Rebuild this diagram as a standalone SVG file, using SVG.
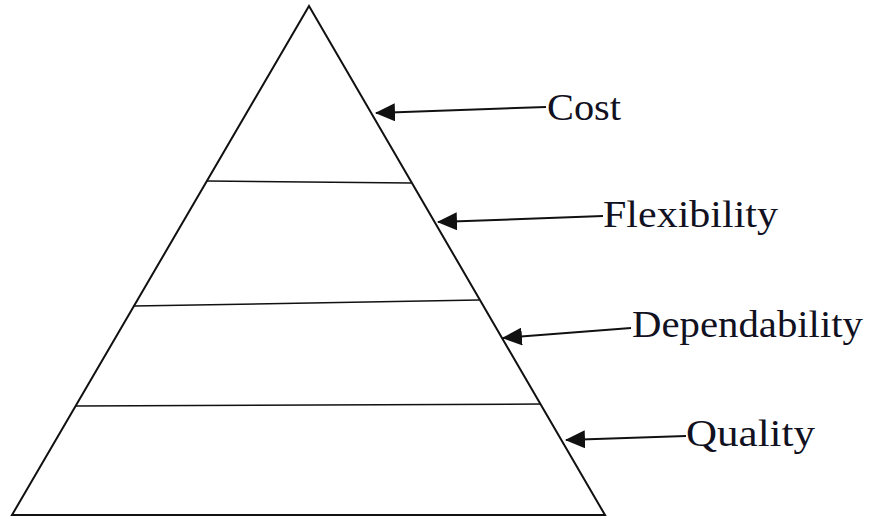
<svg xmlns="http://www.w3.org/2000/svg" width="878" height="519" viewBox="0 0 878 519">
  <style>
    .edge { fill: none; stroke: #111; stroke-width: 2; stroke-linejoin: miter; }
    .tier { fill: none; stroke: #111; stroke-width: 1.5; }
    .arrow { fill: none; stroke: #111; stroke-width: 2; marker-end: url(#head); }
    .label { font-family: "Liberation Serif", "Times New Roman", Times, serif; font-size: 37px; fill: #111122; }
  </style>
  <defs>
    <marker id="head" viewBox="0 0 20 18" refX="19" refY="9" markerWidth="20" markerHeight="18" markerUnits="userSpaceOnUse" orient="auto">
      <path d="M0,0 L20,9 L0,18 Z" fill="#111"/>
    </marker>
  </defs>

  <!-- pyramid outline -->
  <g id="pyramid">
    <polygon class="edge" points="309,6 605,515 12,515"/>
  </g>

  <!-- tier dividers -->
  <g id="tier-cost-flexibility">
    <line class="tier" x1="207" y1="181" x2="411" y2="183"/>
  </g>
  <g id="tier-flexibility-dependability">
    <line class="tier" x1="134" y1="306" x2="479" y2="300"/>
  </g>
  <g id="tier-dependability-quality">
    <line class="tier" x1="76" y1="406" x2="541" y2="404"/>
  </g>

  <!-- labels -->
  <g id="label-cost">
    <text class="label" x="547" y="120" textLength="74" lengthAdjust="spacingAndGlyphs">Cost</text>
  </g>
  <g id="label-flexibility">
    <text class="label" x="603" y="227" textLength="175" lengthAdjust="spacingAndGlyphs">Flexibility</text>
  </g>
  <g id="label-dependability">
    <text class="label" x="632" y="337" textLength="231" lengthAdjust="spacingAndGlyphs">Dependability</text>
  </g>
  <g id="label-quality">
    <text class="label" x="686" y="446" textLength="129" lengthAdjust="spacingAndGlyphs">Quality</text>
  </g>

  <!-- arrows from labels to pyramid side -->
  <g id="connectors">
    <line class="arrow" x1="546" y1="107" x2="376" y2="113"/>
    <line class="arrow" x1="603" y1="216" x2="438" y2="222"/>
    <line class="arrow" x1="631" y1="328" x2="503" y2="338"/>
    <line class="arrow" x1="686" y1="436" x2="566" y2="440"/>
  </g>
</svg>
